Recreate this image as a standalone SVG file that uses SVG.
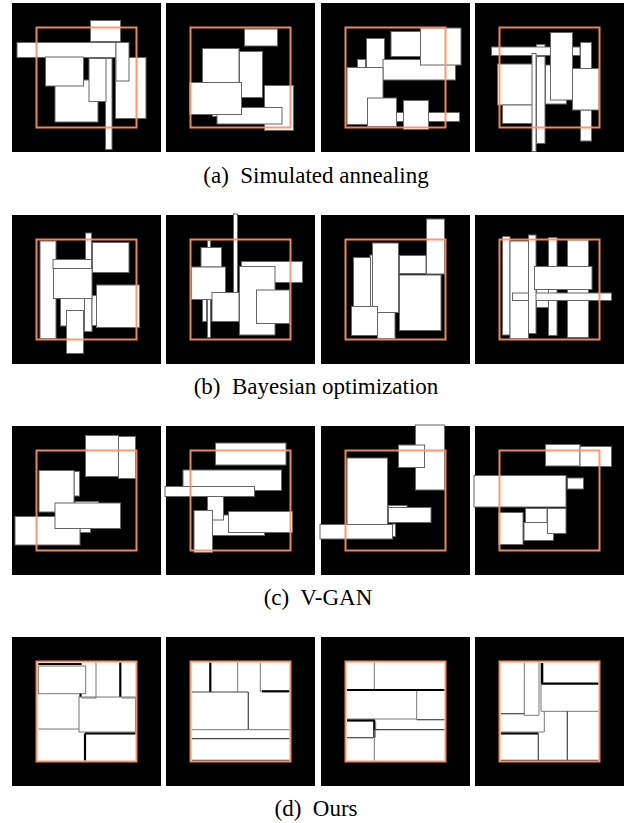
<svg xmlns="http://www.w3.org/2000/svg" width="630" height="823" viewBox="0 0 630 823">
<style>
.bg{fill:#000}
.r{fill:#fff;stroke:#666;stroke-width:1}
.o{fill:none;stroke:#fb9266;stroke-opacity:0.93;stroke-width:2}
.w{fill:#fff;stroke:none}
.l{stroke:#777;stroke-width:1;fill:none}
.d{stroke:#444;stroke-width:1.2;fill:none}
.k{stroke:#000;stroke-width:2.2;fill:none}
.cap{font-family:"Liberation Serif","Times New Roman",serif;font-size:23px;fill:#000;text-anchor:middle;white-space:pre}
</style>
<rect width="630" height="823" fill="#fff"/>

<!-- Row 1: Simulated annealing -->
<g id="sa1" transform="translate(12,3)">
<rect class="bg" width="149" height="149"/>
<rect class="r" x="43" y="77" width="43" height="42"/>
<rect class="r" x="5" y="39.5" width="99" height="15"/>
<rect class="r" x="33.5" y="54" width="38" height="29"/>
<rect class="r" x="93.5" y="55.5" width="6.5" height="91"/>
<rect class="r" x="77" y="55.5" width="17" height="43"/>
<rect class="r" x="103.5" y="54.5" width="30.5" height="61"/>
<rect class="r" x="104" y="39.5" width="13" height="38.5"/>
<rect class="r" x="78.5" y="17.5" width="30" height="21"/>
<rect class="o" x="24.5" y="24.5" width="100" height="100"/>
</g>
<g id="sa2" transform="translate(166,3)">
<rect class="bg" width="149" height="149"/>
<rect class="r" x="78.5" y="26" width="33" height="17"/>
<rect class="r" x="36.5" y="45.5" width="36.5" height="34"/>
<rect class="r" x="73.5" y="48.5" width="23" height="46"/>
<rect class="r" x="98.5" y="82.5" width="29" height="45"/>
<rect class="r" x="46.5" y="100" width="12" height="13.5"/>
<rect class="r" x="51" y="104.5" width="65" height="16.5"/>
<rect class="r" x="23.5" y="79.5" width="52" height="32"/>
<rect class="o" x="24.5" y="24.5" width="100" height="100"/>
</g>
<g id="sa3" transform="translate(321,3)">
<rect class="bg" width="149" height="149"/>
<rect class="r" x="70" y="28.5" width="29.5" height="25"/>
<rect class="r" x="45.5" y="35.5" width="18" height="29"/>
<rect class="r" x="62" y="56.5" width="72.5" height="20.5"/>
<rect class="r" x="99.5" y="25" width="40.5" height="37"/>
<rect class="r" x="36.5" y="56.5" width="8" height="8"/>
<rect class="r" x="26" y="64.5" width="36" height="57"/>
<rect class="r" x="75.5" y="109.5" width="63" height="9"/>
<rect class="r" x="46.5" y="95" width="29" height="28.5"/>
<rect class="r" x="82.5" y="97.5" width="25" height="29"/>
<rect class="o" x="24.5" y="24.5" width="100" height="100"/>
</g>
<g id="sa4" transform="translate(475,3)">
<rect class="bg" width="149" height="149"/>
<rect class="r" x="61.5" y="41.5" width="8.5" height="3"/>
<rect class="r" x="16.5" y="44" width="88.5" height="8.5"/>
<rect class="r" x="70.5" y="62" width="21" height="39"/>
<rect class="r" x="75.5" y="29.5" width="22" height="67.5"/>
<rect class="r" x="105.5" y="39.5" width="11" height="26"/>
<rect class="r" x="105.5" y="107" width="11" height="31"/>
<rect class="r" x="97.5" y="65.5" width="26.5" height="41.5"/>
<rect class="r" x="22.5" y="61" width="35" height="41"/>
<rect class="r" x="27.5" y="102" width="30" height="18.5"/>
<rect class="r" x="61.5" y="53.5" width="8.5" height="87"/>
<rect class="r" x="57" y="50.5" width="4" height="98"/>
<rect class="o" x="24.5" y="24.5" width="100" height="100"/>
</g>
<text class="cap" x="316" y="183">(a)  Simulated annealing</text>

<!-- Row 2: Bayesian optimization -->
<g id="bo1" transform="translate(12,215)">
<rect class="bg" width="149" height="149"/>
<rect class="r" x="28" y="26" width="16" height="97.5"/>
<rect class="r" x="73.5" y="18" width="6" height="29"/>
<rect class="r" x="80.5" y="27.5" width="36.5" height="30"/>
<rect class="r" x="48.5" y="80" width="25" height="31"/>
<rect class="r" x="72.5" y="80" width="7.5" height="36.5"/>
<rect class="r" x="80" y="80.5" width="5.5" height="30"/>
<rect class="r" x="84.5" y="70" width="43" height="42.5"/>
<rect class="r" x="41" y="44.5" width="38.5" height="9"/>
<rect class="r" x="41.5" y="53.5" width="38.5" height="30"/>
<rect class="r" x="54.5" y="95.5" width="17" height="43"/>
<rect class="o" x="24.5" y="24.5" width="100" height="100"/>
</g>
<g id="bo2" transform="translate(166,215)">
<rect class="bg" width="149" height="149"/>
<rect class="r" x="67.5" y="-1" width="4" height="80"/>
<rect class="r" x="41.5" y="25.5" width="3" height="7"/>
<rect class="r" x="35" y="32.5" width="20.5" height="19.5"/>
<rect class="r" x="36.5" y="84.5" width="4" height="22"/>
<rect class="r" x="41.5" y="84.5" width="3" height="38"/>
<rect class="r" x="25.5" y="52" width="34" height="32.5"/>
<rect class="r" x="46" y="77.5" width="27" height="29"/>
<rect class="r" x="75.5" y="46.5" width="61" height="21"/>
<rect class="r" x="73.5" y="51.5" width="35.5" height="68.5"/>
<rect class="r" x="90.5" y="75" width="33" height="33.5"/>
<rect class="o" x="24.5" y="24.5" width="100" height="100"/>
</g>
<g id="bo3" transform="translate(321,215)">
<rect class="bg" width="149" height="149"/>
<rect class="r" x="105.5" y="4" width="18" height="55"/>
<rect class="r" x="78.5" y="40.5" width="26.5" height="18"/>
<rect class="r" x="78.5" y="60" width="41.5" height="55.5"/>
<rect class="r" x="49" y="40" width="3" height="53.5"/>
<rect class="r" x="51.5" y="28" width="26" height="69.5"/>
<rect class="r" x="32.5" y="42.5" width="17" height="49"/>
<rect class="r" x="30.5" y="91.5" width="26" height="29"/>
<rect class="r" x="56.5" y="97.5" width="17.5" height="26"/>
<rect class="o" x="24.5" y="24.5" width="100" height="100"/>
</g>
<g id="bo4" transform="translate(475,215)">
<rect class="bg" width="149" height="149"/>
<rect class="r" x="27.5" y="21.5" width="7.5" height="98.5"/>
<rect class="r" x="35" y="26" width="18.5" height="97.5"/>
<rect class="r" x="73.5" y="22.5" width="8.5" height="98"/>
<rect class="r" x="92.5" y="25" width="21" height="97.5"/>
<rect class="r" x="61.5" y="74" width="12" height="18.5"/>
<rect class="r" x="37.5" y="78" width="99" height="7.5"/>
<rect class="r" x="53.5" y="20" width="7.5" height="98.5"/>
<rect class="r" x="59.5" y="51.5" width="57.5" height="23"/>
<rect class="o" x="24.5" y="24.5" width="100" height="100"/>
</g>
<text class="cap" x="316" y="394">(b)  Bayesian optimization</text>

<!-- Row 3: V-GAN -->
<g id="vg1" transform="translate(12,426)">
<rect class="bg" width="149" height="149"/>
<rect class="r" x="73.5" y="9.5" width="33" height="41"/>
<rect class="r" x="106.5" y="10.5" width="17" height="42"/>
<rect class="r" x="62" y="45.5" width="5.5" height="24.5"/>
<rect class="r" x="27" y="44.5" width="35" height="41.5"/>
<rect class="r" x="63" y="75.5" width="23.5" height="8"/>
<rect class="r" x="68" y="95" width="10.5" height="11.5"/>
<rect class="r" x="3" y="90.5" width="65" height="28.5"/>
<rect class="r" x="43" y="77" width="65.5" height="25.5"/>
<rect class="o" x="24.5" y="24.5" width="100" height="100"/>
</g>
<g id="vg2" transform="translate(166,426)">
<rect class="bg" width="149" height="149"/>
<rect class="r" x="49.5" y="17" width="70.5" height="22"/>
<rect class="r" x="17" y="44" width="98.5" height="20.5"/>
<rect class="r" x="-1" y="60.5" width="89.5" height="10"/>
<rect class="r" x="46.5" y="89" width="52" height="20.5"/>
<rect class="r" x="41.5" y="70.5" width="16" height="23.5"/>
<rect class="r" x="28" y="84.5" width="18.5" height="42"/>
<rect class="r" x="62.5" y="85.5" width="64" height="21"/>
<rect class="o" x="24.5" y="24.5" width="100" height="100"/>
</g>
<g id="vg3" transform="translate(321,426)">
<rect class="bg" width="149" height="149"/>
<rect class="r" x="94.5" y="-1" width="29" height="65"/>
<rect class="r" x="77.5" y="19" width="26" height="22.5"/>
<rect class="r" x="67.5" y="79.5" width="18.5" height="8"/>
<rect class="r" x="67.5" y="81.5" width="42.5" height="15"/>
<rect class="r" x="71.5" y="98" width="3" height="12.5"/>
<rect class="r" x="26" y="32" width="40.5" height="66.5"/>
<rect class="r" x="-1" y="98.5" width="72.5" height="14.5"/>
<rect class="o" x="24.5" y="24.5" width="100" height="100"/>
</g>
<g id="vg4" transform="translate(475,426)">
<rect class="bg" width="149" height="149"/>
<rect class="r" x="70.5" y="18.5" width="34.5" height="21.5"/>
<rect class="r" x="105" y="20.5" width="31.5" height="20"/>
<rect class="r" x="-1" y="49.5" width="92" height="31.5"/>
<rect class="r" x="92.5" y="52" width="16" height="11"/>
<rect class="r" x="49" y="96.5" width="29.5" height="18"/>
<rect class="r" x="50.5" y="82.5" width="21.5" height="14"/>
<rect class="r" x="72.5" y="82.5" width="18.5" height="25"/>
<rect class="r" x="23.5" y="86.5" width="24.5" height="32"/>
<rect class="o" x="24.5" y="24.5" width="100" height="100"/>
</g>
<text class="cap" x="318" y="605">(c)  V-GAN</text>

<!-- Row 4: Ours -->
<g id="ours1" transform="translate(12,637)">
<rect class="bg" width="149" height="149"/>
<rect class="w" x="24.5" y="24.5" width="100" height="100"/>
<rect class="l" x="26.3" y="29" width="47.4" height="27.7"/>
<line class="k" x1="26.3" y1="27" x2="69.7" y2="27"/>
<line class="l" x1="84" y1="25.5" x2="84" y2="61"/>
<line class="k" x1="108.3" y1="25.5" x2="108.3" y2="60"/>
<line class="l" x1="69.7" y1="61" x2="84" y2="61"/>
<line class="l" x1="109.7" y1="61" x2="123.5" y2="61"/>
<line class="k" x1="68.5" y1="56.7" x2="68.5" y2="60"/>
<rect class="l" x="67" y="60" width="56.5" height="35"/>
<line class="l" x1="26.3" y1="92" x2="67" y2="92"/>
<line class="k" x1="73" y1="96.5" x2="123.5" y2="96.5"/>
<line class="k" x1="73" y1="96.5" x2="73" y2="123.5"/>
<rect class="o" x="24.5" y="24.5" width="100" height="100"/>
</g>
<g id="ours2" transform="translate(166,637)">
<rect class="bg" width="149" height="149"/>
<rect class="w" x="24.5" y="24.5" width="100" height="100"/>
<line class="k" x1="44.3" y1="25.5" x2="44.3" y2="55"/>
<line class="l" x1="71.7" y1="25.5" x2="71.7" y2="55"/>
<line class="l" x1="94.3" y1="25.5" x2="94.3" y2="55"/>
<line class="d" x1="26" y1="55" x2="82.3" y2="55"/>
<line class="k" x1="95.7" y1="54.3" x2="123.5" y2="54.3"/>
<line class="d" x1="82.3" y1="55" x2="82.3" y2="92.7"/>
<line class="l" x1="26" y1="92.7" x2="123.5" y2="92.7"/>
<line class="d" x1="26" y1="101.7" x2="123.5" y2="101.7"/>
<line class="d" x1="26" y1="123.3" x2="123.5" y2="123.3"/>
<rect class="o" x="24.5" y="24.5" width="100" height="100"/>
</g>
<g id="ours3" transform="translate(321,637)">
<rect class="bg" width="149" height="149"/>
<rect class="w" x="24.5" y="24.5" width="100" height="100"/>
<line class="l" x1="53.3" y1="25.5" x2="53.3" y2="52.7"/>
<line class="k" x1="26" y1="53" x2="123.5" y2="53"/>
<line class="l" x1="95.7" y1="54" x2="95.7" y2="82.7"/>
<line class="d" x1="95.7" y1="82.7" x2="123.5" y2="82.7"/>
<line class="l" x1="26" y1="82" x2="95.7" y2="82"/>
<line class="k" x1="26" y1="83.5" x2="54" y2="83.5"/>
<line class="k" x1="53.3" y1="83.5" x2="53.3" y2="100.7"/>
<line class="l" x1="54.7" y1="84.5" x2="54.7" y2="92.7"/>
<line class="d" x1="54" y1="92.7" x2="123.5" y2="92.7"/>
<line class="d" x1="26" y1="100.7" x2="52.3" y2="100.7"/>
<line class="l" x1="53.3" y1="92.7" x2="53.3" y2="123.5"/>
<rect class="o" x="24.5" y="24.5" width="100" height="100"/>
</g>
<g id="ours4" transform="translate(475,637)">
<rect class="bg" width="149" height="149"/>
<rect class="w" x="24.5" y="24.5" width="100" height="100"/>
<line class="l" x1="49.3" y1="25.5" x2="49.3" y2="78.3"/>
<line class="l" x1="64" y1="25.5" x2="64" y2="78.3"/>
<line class="l" x1="49.3" y1="78.3" x2="64" y2="78.3"/>
<line class="k" x1="67" y1="26" x2="67" y2="46.7" style="stroke-width:2.6"/>
<line class="k" x1="66" y1="46.7" x2="123.5" y2="46.7"/>
<line class="l" x1="66" y1="46.7" x2="66" y2="74.3"/>
<line class="l" x1="66" y1="74.3" x2="123.5" y2="74.3"/>
<line class="d" x1="26" y1="76.7" x2="49.3" y2="76.7"/>
<line class="l" x1="69.3" y1="74.3" x2="69.3" y2="95"/>
<line class="l" x1="26" y1="95" x2="69.3" y2="95"/>
<line class="k" x1="26" y1="96.5" x2="63.3" y2="96.5"/>
<line class="d" x1="63.3" y1="96.5" x2="63.3" y2="123.3"/>
<line class="d" x1="92.3" y1="74.3" x2="92.3" y2="123.3"/>
<line class="d" x1="26" y1="123.3" x2="123.5" y2="123.3"/>
<rect class="o" x="24.5" y="24.5" width="100" height="100"/>
</g>
<text class="cap" x="316" y="816">(d)  Ours</text>
</svg>
